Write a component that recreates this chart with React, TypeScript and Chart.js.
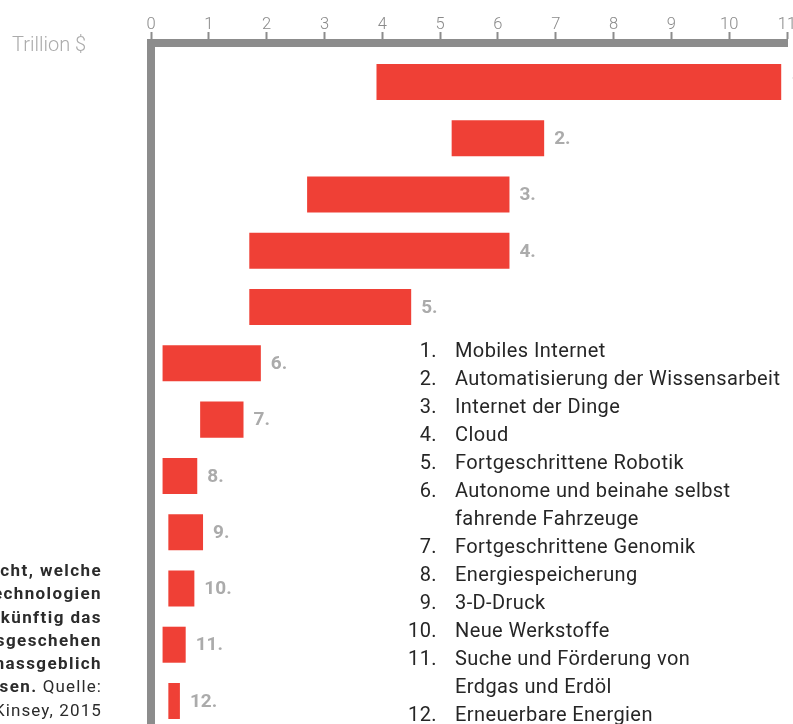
import React, { useEffect, useRef } from "react";
import { Chart, registerables } from "chart.js";

Chart.register(...registerables);

const categories = ["1.", "2.", "3.", "4.", "5.", "6.", "7.", "8.", "9.", "10.", "11.", "12."];
const rangeStart = [3.9, 5.2, 2.7, 1.7, 1.7, 0.2, 0.85, 0.2, 0.3, 0.3, 0.2, 0.3];
const rangeEnd = [10.9, 6.8, 6.2, 6.2, 4.5, 1.9, 1.6, 0.8, 0.9, 0.75, 0.6, 0.5];
const xTickValues = [0, 1, 2, 3, 4, 5, 6, 7, 8, 9, 10, 11];
const unitLabel = "Trillion $";
const legendTexts = [
  "Mobiles Internet",
  "Automatisierung der Wissensarbeit",
  "Internet der Dinge",
  "Cloud",
  "Fortgeschrittene Robotik",
  "Autonome und beinahe selbst\nfahrende Fahrzeuge",
  "Fortgeschrittene Genomik",
  "Energiespeicherung",
  "3-D-Druck",
  "Neue Werkstoffe",
  "Suche und Förderung von\nErdgas und Erdöl",
  "Erneuerbare Energien",
];
const noteBoldLines = ["Übersicht, welche", "Technologien", "künftig das", "Wirtschaftsgeschehen", "massgeblich"];
const noteLastBold = "beeinflussen.";
const noteSource = "Quelle:";
const noteSourceLine = "McKinsey, 2015";

const AXIS_GRAY = "#8c8c8c";
const BAR_RED = "#ef4036";
const FONT = "Roboto, 'Noto Sans', sans-serif";

const barLabelPlugin = {
  id: "barLabels",
  afterDatasetsDraw(chart: any) {
    const ctx = chart.ctx;
    const meta = chart.getDatasetMeta(0);
    ctx.save();
    ctx.font = `700 19px ${FONT}`;
    ctx.fillStyle = "#ababab";
    ctx.textBaseline = "middle";
    ctx.textAlign = "left";
    meta.data.forEach((bar: any, i: number) => {
      const p = bar.getProps(["x", "y", "base"], true);
      const end = Math.max(p.x, p.base);
      ctx.fillText(categories[i], end + 10, p.y + 1);
    });
    ctx.restore();
  },
};

function ChartCanvas() {
  const ref = useRef<HTMLCanvasElement | null>(null);
  useEffect(() => {
    if (!ref.current) return;
    const chart = new Chart(ref.current, {
      type: "bar",
      data: {
        labels: categories,
        datasets: [
          {
            data: categories.map((_, i) => ({ x: [rangeStart[i], rangeEnd[i]], y: i + 1 })) as any,
            backgroundColor: BAR_RED,
            borderWidth: 0,
            categoryPercentage: 0.8,
            barPercentage: 0.8,
          },
        ],
      },
      options: {
        indexAxis: "y",
        responsive: false,
        animation: false,
        devicePixelRatio: 1,
        layout: { padding: { left: 0, right: 6, top: 0, bottom: 0 } },
        plugins: { legend: { display: false }, tooltip: { enabled: false } },
        scales: {
          x: {
            type: "linear",
            position: "top",
            min: 0,
            max: 11,
            bounds: "data",
            offset: false,
            afterBuildTicks: (scale: any) => {
              scale.ticks = xTickValues.map((v) => ({ value: v }));
            },
            afterFit: (scale: any) => {
              scale.height = 43;
              scale.paddingLeft = 0;
              scale.paddingRight = 0;
            },
            ticks: {
              color: "#8a8a8a",
              font: { family: FONT, size: 16.5, weight: "300" },
              padding: -3,
              maxRotation: 0,
              autoSkip: false,
            },
            grid: {
              display: true,
              offset: false,
              drawOnChartArea: false,
              drawTicks: true,
              tickLength: 11,
              tickWidth: 2,
              tickColor: AXIS_GRAY,
              color: AXIS_GRAY,
              lineWidth: 1,
            },
            border: { display: true, width: 8, color: AXIS_GRAY },
          },
          y: {
            type: "linear",
            reverse: true,
            min: 0.307,
            max: 12.409,
            bounds: "data",
            offset: false,
            afterBuildTicks: (scale: any) => {
              scale.ticks = categories.map((_, i) => ({ value: i + 1 }));
            },
            afterFit: (scale: any) => {
              scale.width = 151;
              scale.paddingTop = 0;
              scale.paddingBottom = 0;
            },
            ticks: { display: false },
            grid: { display: false, offset: false },
            border: { display: true, width: 8, color: AXIS_GRAY },
          },
        },
      } as any,
      plugins: [barLabelPlugin],
    });
    return () => chart.destroy();
  }, []);
  return <canvas ref={ref} width={793} height={724} style={{ position: "absolute", left: 0, top: 0 }} />;
}

export default function App() {
  return (
    <div
      style={{
        position: "absolute",
        left: 0,
        top: 0,
        width: 793,
        height: 724,
        overflow: "hidden",
        background: "#fff",
        fontFamily: FONT,
      }}
    >
      <ChartCanvas />
      <div
        style={{
          position: "absolute",
          left: 12,
          top: 30,
          fontSize: 20,
          fontWeight: 300,
          color: "#ababab",
          lineHeight: "28px",
          whiteSpace: "nowrap",
        }}
      >
        {unitLabel}
      </div>
      <div
        style={{
          position: "absolute",
          left: 0,
          top: 559,
          width: 102,
          fontSize: 17,
          lineHeight: "23.3px",
          color: "#2b2b2b",
          letterSpacing: "1.1px",
        }}
      >
        {noteBoldLines.map((l, i) => (
          <div key={i} style={{ display: "flex", justifyContent: "flex-end", whiteSpace: "nowrap", fontWeight: 700, letterSpacing: "1.4px" }}>
            <span>{l}</span>
          </div>
        ))}
        <div style={{ display: "flex", justifyContent: "flex-end", whiteSpace: "nowrap" }}>
          <span>
            <b style={{ letterSpacing: "1.4px" }}>{noteLastBold}</b> <span style={{ fontWeight: 400 }}>{noteSource}</span>
          </span>
        </div>
        <div style={{ display: "flex", justifyContent: "flex-end", whiteSpace: "nowrap" }}>
          <span>{noteSourceLine}</span>
        </div>
      </div>
      <div
        style={{
          position: "absolute",
          left: 400,
          top: 336,
          fontSize: 20,
          lineHeight: "28px",
          color: "#262626",
          letterSpacing: "0.4px",
        }}
      >
        {legendTexts.map((t, i) => (
          <div key={i} style={{ display: "flex" }}>
            <span style={{ width: 37, textAlign: "right", flex: "none" }}>{categories[i]}</span>
            <span style={{ marginLeft: 18, whiteSpace: "pre" }}>{t}</span>
          </div>
        ))}
      </div>
    </div>
  );
}
